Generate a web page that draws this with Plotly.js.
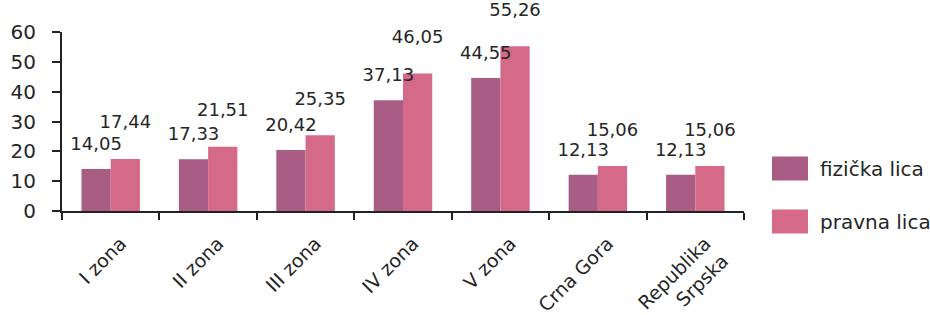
<!DOCTYPE html>
<html>
<head>
<meta charset="utf-8">
<script src="https://cdn.plot.ly/plotly-3.0.1.min.js"></script>
<style>html,body{margin:0;padding:0;background:#fff;}#chart{width:930px;height:315px;}</style>
</head>
<body>
<div id="chart"></div>
<script>
var categories = ["I zona", "II zona", "III zona", "IV zona", "V zona", "Crna Gora", "Republika<br>Srpska"];
var fizickaLica = [14.05, 17.33, 20.42, 37.13, 44.55, 12.13, 12.13];
var pravnaLica = [17.44, 21.51, 25.35, 46.05, 55.26, 15.06, 15.06];
var seriesNames = ["fizička lica", "pravna lica"];
var yTicks = [0, 10, 20, 30, 40, 50, 60];

function fmt(v) { return v.toFixed(2).replace('.', ','); }

var FONT = "DejaVu Sans, sans-serif";
var TXT = "#262626";
var COLORS = ['#A95C84', '#D46A88'];
var GAP = 0.4;

function barTrace(i, vals) {
  return {
    type: 'bar', name: seriesNames[i], x: categories, y: vals,
    marker: {color: COLORS[i], line: {width: 0}},
    legendgroup: 'g' + i, offsetgroup: 'o' + i, alignmentgroup: 'al',
    hoverinfo: 'skip'
  };
}
function labelTrace(i, vals, pad) {
  return {
    type: 'scatter', mode: 'markers+text', x: categories, y: vals,
    text: vals.map(fmt), textposition: 'top center',
    marker: {size: pad, opacity: 0, color: COLORS[i]},
    offsetgroup: 'o' + i, alignmentgroup: 'al',
    showlegend: false, cliponaxis: false, hoverinfo: 'skip',
    textfont: {family: FONT, size: 18, color: TXT}
  };
}

var traces = [
  barTrace(0, fizickaLica),
  barTrace(1, pravnaLica),
  labelTrace(0, fizickaLica, 22),
  labelTrace(1, pravnaLica, 40)
];

var layout = {
  width: 930, height: 315,
  margin: {l: 62, r: 186, t: 32, b: 104, autoexpand: false},
  paper_bgcolor: '#fff', plot_bgcolor: '#fff',
  font: {family: FONT, size: 18, color: TXT},
  barmode: 'group', bargap: GAP, bargroupgap: 0,
  scattermode: 'group', scattergap: GAP,
  showlegend: true,
  legend: {x: 1.0088, xref: 'paper', y: 0.09, xanchor: 'left', yanchor: 'middle',
           itemwidth: 60,
           font: {family: FONT, size: 20, color: TXT}, tracegroupgap: 24,
           bgcolor: 'rgba(0,0,0,0)'},
  xaxis: {
    type: 'category', showgrid: false, showline: true, linecolor: '#222', linewidth: 2,
    ticks: 'outside', tickson: 'boundaries', ticklen: 7, tickwidth: 2, tickcolor: '#222',
    tickangle: -45, tickfont: {family: FONT, size: 19, color: TXT}, zeroline: false,
    ticklabelstandoff: 12, ticklabelshift: 10
  },
  yaxis: {
    range: [0, 60], tickvals: yTicks, ticktext: yTicks.map(String),
    showgrid: false, showline: true, linecolor: '#222', linewidth: 2,
    ticks: 'outside', ticklen: 8, tickwidth: 2, tickcolor: '#222',
    tickfont: {family: FONT, size: 20, color: TXT}, zeroline: false,
    ticklabelstandoff: 12
  }
};

var gd = document.getElementById('chart');
function fixLegend() {
  var pts = gd.querySelectorAll('.legend .legendpoints path');
  pts.forEach(function (p) {
    p.setAttribute('d', 'M22,12H58V-12H22Z');
    p.removeAttribute('transform');
  });
}
Plotly.newPlot(gd, traces, layout, {staticPlot: true}).then(function () {
  fixLegend();
  gd.on('plotly_afterplot', fixLegend);
});
</script>
</body>
</html>
